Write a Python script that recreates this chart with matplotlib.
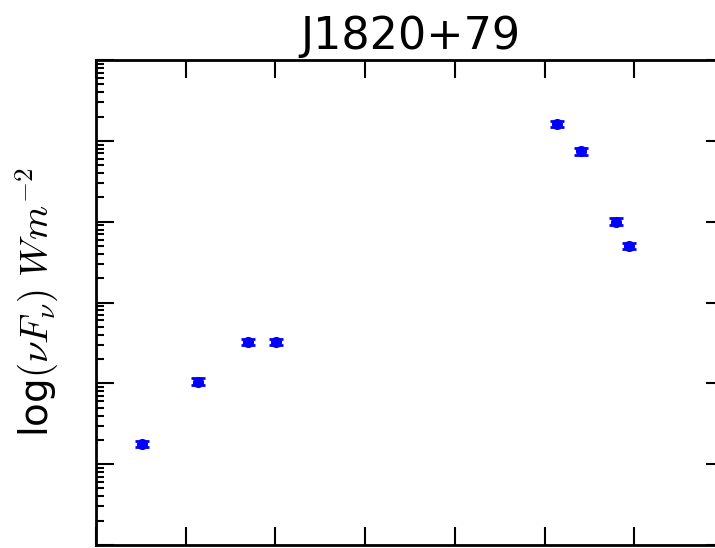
"""
SED of J1820+79 - radio + WISE points
"""
import numpy as np
import matplotlib
matplotlib.use('Agg')
import matplotlib.pyplot as plt
from matplotlib.ticker import LogLocator, NullFormatter, MultipleLocator

plt.rcParams['mathtext.fontset'] = 'cm'

# source + photometry (log10 frequency in Hz, log10 nuFnu in W m^-2)
source = 'J1820+79'
log_nu = [8.51, 9.14, 9.69, 10.01, 13.14, 13.41, 13.80, 13.94]
log_nufnu = [-16.75, -15.98, -15.49, -15.49, -12.79, -13.13, -14.00, -14.30]
log_err = [0.04, 0.04, 0.04, 0.04, 0.04, 0.04, 0.04, 0.04]

nu = np.array(log_nu)
flux = 10 ** np.array(log_nufnu)
err_lo = flux - 10 ** (np.array(log_nufnu) - np.array(log_err))
err_hi = 10 ** (np.array(log_nufnu) + np.array(log_err)) - flux

fig = plt.figure(figsize=(7.15, 5.48), dpi=100)
ax = fig.add_axes([96 / 715, 3 / 548, 628 / 715, 485 / 548])

ax.errorbar(nu, flux, yerr=[err_lo, err_hi], fmt='o', color='blue',
            markersize=7, markeredgecolor='blue', capsize=5, elinewidth=1.5,
            capthick=2, zorder=3)

ax.set_yscale('log')
ax.set_xlim(8, 15)
ax.set_ylim(1e-18, 1e-12)
ax.xaxis.set_major_locator(MultipleLocator(1))
ax.yaxis.set_major_locator(LogLocator(base=10, numticks=10))
ax.yaxis.set_minor_locator(LogLocator(base=10, subs=np.arange(2, 10), numticks=20))
ax.xaxis.set_major_formatter(NullFormatter())
ax.yaxis.set_major_formatter(NullFormatter())
ax.yaxis.set_minor_formatter(NullFormatter())

ax.tick_params(which='both', direction='in', top=True, right=True, width=1.5)
ax.tick_params(which='major', length=13)
ax.tick_params(which='minor', length=6)
for s in ax.spines.values():
    s.set_linewidth(2)

ax.set_title(source, fontsize=32, pad=8)
ax.set_ylabel(r'log$(\nu F_\nu)\ Wm^{-2}$', fontsize=28)
ax.yaxis.set_label_coords(-0.055, 0.5)

plt.savefig('out.png', dpi=100)
plt.close()
